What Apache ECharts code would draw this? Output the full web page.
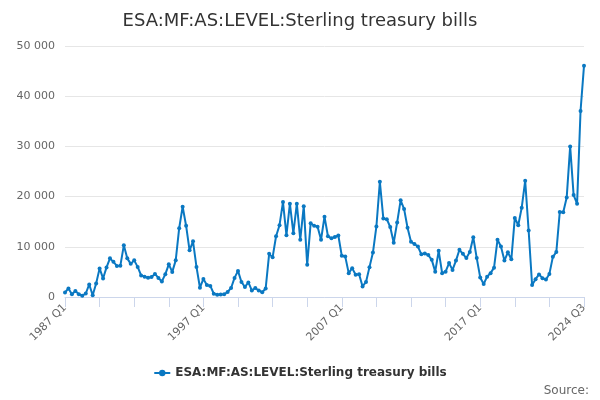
<!DOCTYPE html>
<html>
<head>
<meta charset="utf-8">
<script src="https://cdn.jsdelivr.net/npm/echarts@6/dist/echarts.min.js"></script>
<style>
html,body{margin:0;padding:0;background:#fff;}
#chart{width:600px;height:400px;}
</style>
</head>
<body>
<div id="chart"></div>
<script>
const titleText = "ESA:MF:AS:LEVEL:Sterling treasury bills";
const seriesName = "ESA:MF:AS:LEVEL:Sterling treasury bills";
const sourceText = "Source:";
const startYear = 1987;
const endYear = 2024;
const endQuarter = 3;
const yTicks = [0, 10000, 20000, 30000, 40000, 50000];
const values = [
  900, 1700, 550, 1200, 550, 250, 700, 2500, 350, 2700,
  5700, 3700, 5900, 7700, 7000, 6200, 6250, 10300, 7700, 6600,
  7300, 6000, 4300, 4050, 3850, 4000, 4600, 3800, 3100, 4550,
  6500, 5000, 7300, 13700, 18000, 14200, 9300, 11100, 6000, 1850,
  3600, 2400, 2200, 650, 450, 500, 550, 1000, 1800, 3800,
  5200, 3000, 2000, 2900, 1300, 1800, 1300, 950, 1700, 8600,
  7900, 12100, 14300, 18900, 12300, 18600, 12700, 18600, 11400, 18100,
  6400, 14700, 14200, 14000, 11400, 16000, 12100, 11700, 11950, 12250,
  8200, 8050, 4750, 5750, 4450, 4550, 2100, 3000, 5950, 8850,
  14050, 22950, 15650, 15500, 13950, 10800, 14850, 19250, 17550, 13800,
  11000, 10550, 10050, 8500, 8650, 8350, 7400, 5050, 9200, 4750,
  5050, 6750, 5400, 7250, 9400, 8600, 7750, 8950, 11900, 7750,
  3900, 2600, 4050, 4750, 5850, 11400, 10050, 7250, 8900, 7500,
  15750, 14300, 17800, 23150, 13250, 2400, 3550, 4500, 3750, 3500,
  4600, 8000, 8950, 16950, 16900, 19800, 30000, 20300, 18600, 37050,
  46050
];

const categories = [];
for (let y = startYear; y <= endYear; y++) {
  for (let q = 1; q <= 4; q++) {
    if (y === endYear && q > endQuarter) break;
    categories.push(y + " Q" + q);
  }
}
const lastIdx = categories.length - 1;
const FONT = "DejaVu Sans";
const color = "#0a78c2";

const chart = echarts.init(document.getElementById('chart'), null, {renderer: 'canvas'});
chart.setOption({
  animation: false,
  backgroundColor: '#ffffff',
  textStyle: {fontFamily: FONT},
  title: {
    text: titleText,
    left: 'center',
    top: 7,
    textStyle: {fontFamily: FONT, fontSize: 18, fontWeight: 'normal', color: '#333333'}
  },
  graphic: [{
    type: 'text',
    right: 11,
    top: 385,
    style: {text: sourceText, fontFamily: FONT, fontSize: 12, fill: '#666666'}
  }],
  legend: {
    bottom: 16,
    left: 'center',
    itemWidth: 16,
    itemHeight: 8,
    itemGap: 10,
    textStyle: {fontFamily: FONT, fontSize: 12, fontWeight: 'bold', color: '#333333'},
    data: [{name: seriesName}]
  },
  grid: {left: 65, right: 16, top: 46, bottom: 103, containLabel: false},
  xAxis: {
    type: 'category',
    data: categories,
    boundaryGap: false,
    axisLine: {lineStyle: {color: '#ccd6eb', width: 1}},
    axisTick: {
      show: true,
      length: 10,
      lineStyle: {color: '#ccd6eb'},
      interval: function (idx) { return idx % 10 === 0; }
    },
    axisLabel: {
      rotate: 45,
      fontFamily: FONT,
      fontSize: 11,
      color: '#666666',
      margin: 9,
      interval: function (idx) { return idx % 40 === 0 || idx === lastIdx; }
    },
    splitLine: {show: false}
  },
  yAxis: {
    type: 'value',
    min: yTicks[0],
    max: yTicks[yTicks.length - 1],
    interval: 10000,
    axisLine: {show: false},
    axisTick: {show: false},
    axisLabel: {
      fontFamily: FONT,
      fontSize: 11,
      color: '#666666',
      margin: 10,
      formatter: function (v) { return String(v).replace(/\B(?=(\d{3})+(?!\d))/g, ' '); }
    },
    splitLine: {lineStyle: {color: '#e6e6e6', width: 1}}
  },
  series: [{
    name: seriesName,
    type: 'line',
    data: values,
    color: color,
    lineStyle: {width: 2, color: color},
    itemStyle: {color: color},
    symbol: 'circle',
    symbolSize: 4,
    showSymbol: true,
    showAllSymbol: true
  }]
});
</script>
</body>
</html>
